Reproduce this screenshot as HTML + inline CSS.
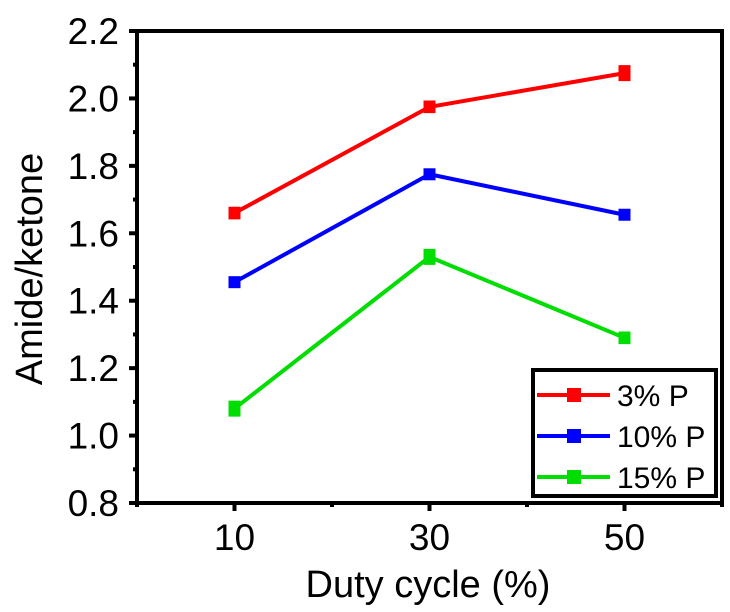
<!DOCTYPE html>
<html><head><meta charset="utf-8"><style>
body{margin:0;background:#fff;}
svg{display:block;font-family:"Liberation Sans",Arial,sans-serif;}
</style></head><body>
<svg id="chart" width="730" height="612"></svg>
<script>
const categories=[10,30,50];
const seriesNames=["3% P","10% P","15% P"];
const seriesColors=["#ff0000","#0000ff","#00dd00"];
const series3=[1.66,1.975,2.075];
const series10=[1.455,1.775,1.655];
const series15=[1.08,1.53,1.29];
const err3=[0.015,0.015,0.02];
const err10=[0.01,0.01,0.01];
const err15=[0.02,0.02,0.015];
const yTicks=[0.8,1.0,1.2,1.4,1.6,1.8,2.0,2.2];
const xTicks=[10,30,50];
const allSeries=[series3,series10,series15];
const allErr=[err3,err10,err15];

const NS="http://www.w3.org/2000/svg";
const svg=document.getElementById('chart');
const L=137,R=722,T=31,B=503;
const xs=v=>L+(v-0)/(60-0)*(R-L);
const ys=v=>B-(v-0.8)/(2.2-0.8)*(B-T);
function mk(tag,attrs,parent){const e=document.createElementNS(NS,tag);for(const k in attrs)e.setAttribute(k,attrs[k]);(parent||svg).appendChild(e);return e;}

yTicks.forEach((t,i)=>{
  const y=ys(t);
  const tk=mk('line',{x1:L-8,x2:L,y1:y,y2:y,stroke:'#000','stroke-width':4});
  
  
  const tx=mk('text',{x:L-18,y:y+13,'text-anchor':'end','font-size':37});
  tx.textContent=t.toFixed(1);
  
  
  if(i<yTicks.length-1){const ym=ys(t+0.1);
    const m=mk('line',{x1:L-4,x2:L,y1:ym,y2:ym,stroke:'#000','stroke-width':4});
    
    }
});
[0,10,20,30,40,50,60].forEach(v=>{
  const major=xTicks.includes(v);
  const x=xs(v);
  const tk=mk('line',{x1:x,x2:x,y1:B,y2:B+(major?8:4),stroke:'#000','stroke-width':4});
  
  
  if(major){const tx=mk('text',{x:x,y:550,'text-anchor':'middle','font-size':37});
    tx.textContent=v;
    
    }
});
const frame=mk('rect',{x:L,y:T,width:R-L,height:B-T,fill:'none',stroke:'#000','stroke-width':4});



allSeries.forEach((s,si)=>{
  const g=mk('g',{});
  
  
  const pts=s.map((v,i)=>xs(categories[i])+','+ys(v)).join(' ');
  const pl=mk('polyline',{points:pts,fill:'none',stroke:seriesColors[si],'stroke-width':4},g);
  
  
  s.forEach((v,i)=>{
    const x=xs(categories[i]),e=allErr[si][i];
    const eb=mk('path',{d:`M${x},${ys(v+e)}V${ys(v-e)}M${x-6},${ys(v+e)}H${x+6}M${x-6},${ys(v-e)}H${x+6}`,stroke:seriesColors[si],'stroke-width':2.5,fill:'none'},g);
    
    
    const p=mk('rect',{x:x-6,y:ys(v)-6,width:12,height:12,fill:seriesColors[si]},g);
    
    
  });
});

const lg=mk('g',{});


const lb=mk('rect',{x:533,y:370,width:183,height:126,fill:'#fff',stroke:'#000','stroke-width':4},lg);


seriesNames.forEach((n,i)=>{
  const y=395+i*41;
  const ln=mk('line',{x1:537,x2:610,y1:y,y2:y,stroke:seriesColors[i],'stroke-width':4},lg);
  
  
  const m=mk('rect',{x:567,y:y-7,width:14,height:14,fill:seriesColors[i]},lg);
  
  
  const t=mk('text',{x:617,y:y+11,'font-size':30},lg);
  t.textContent=n;
  
  
});

const xt=mk('text',{x:428,y:597,'text-anchor':'middle','font-size':38});
xt.textContent='Duty cycle (%)';


const yt=mk('text',{x:0,y:0,'text-anchor':'middle','font-size':38,transform:`translate(42,${(T+B)/2+2}) rotate(-90)`});
yt.textContent='Amide/ketone';


</script>
</body></html>
